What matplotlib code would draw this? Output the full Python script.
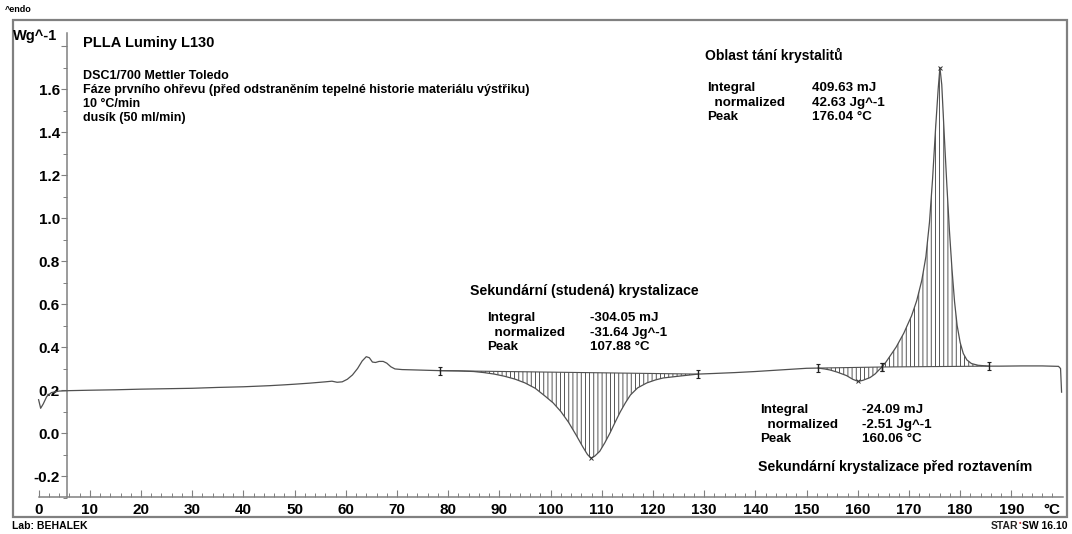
import matplotlib
matplotlib.use('Agg')
import matplotlib.pyplot as plt
import numpy as np
from matplotlib.patches import Polygon, Rectangle
from matplotlib.ticker import FixedLocator, NullFormatter

# ---------------- data ----------------
temperature = [0.0, 0.4, 0.9, 1.6, 2.5, 4.0, 6, 10, 15, 20, 25, 30, 35, 40, 45, 48, 50, 53, 56,
               57.3, 58.3, 59.3, 60.3, 61.3, 62.3, 63.2, 64.0, 64.6, 65.2, 65.8, 66.5, 67.3, 68.0,
               68.8, 69.6, 71, 74, 78.4, 82, 85, 87, 89, 91, 93, 95, 97, 99, 100.5, 102, 103.5,
               105, 106.3, 107.2, 107.88, 108.6, 109.6, 110.6, 111.6, 112.6, 113.6, 114.6, 115.6,
               117, 118.8, 120.5, 122, 125.3, 128.8, 132, 136, 140, 144, 148, 150, 152.2, 153.5,
               154.6, 156, 157.8, 159, 160.06, 161, 162.4, 163.4, 164.0, 164.7, 165.5, 166.5,
               167.5, 169, 170.5, 171.5, 172.5, 173.3, 174.0, 174.6, 175.2, 175.7, 176.04, 176.4,
               176.9, 177.4, 177.9, 178.4, 178.9, 179.4, 180.0, 180.6, 181.3, 182.2, 183.5, 185.6,
               188, 192, 196, 199.2, 199.6, 199.8]
heat_flow = [0.155, 0.115, 0.135, 0.170, 0.188, 0.195, 0.197, 0.199, 0.201, 0.204, 0.206, 0.208,
             0.212, 0.215, 0.220, 0.224, 0.227, 0.232, 0.238,
             0.241, 0.236, 0.238, 0.250, 0.270, 0.300, 0.335, 0.355, 0.350, 0.330, 0.328, 0.333,
             0.333, 0.325, 0.308, 0.298, 0.295, 0.293, 0.290, 0.289, 0.286, 0.281, 0.274, 0.264,
             0.251, 0.233, 0.208, 0.170, 0.140, 0.100, 0.050, -0.010, -0.065, -0.100, -0.117,
             -0.108, -0.085, -0.045, 0.000, 0.050, 0.098, 0.140, 0.177, 0.210, 0.233, 0.247,
             0.256, 0.265, 0.274, 0.277, 0.281, 0.286, 0.292, 0.298, 0.301, 0.302, 0.298, 0.293,
             0.283, 0.267, 0.250, 0.240, 0.245, 0.258, 0.275, 0.290, 0.307, 0.330, 0.365, 0.400,
             0.465, 0.545, 0.615, 0.710, 0.820, 0.980, 1.180, 1.420, 1.600, 1.700, 1.620, 1.380,
             1.150, 0.940, 0.760, 0.610, 0.500, 0.420, 0.370, 0.340, 0.323, 0.315, 0.311, 0.311,
             0.312, 0.312, 0.310, 0.300, 0.190]

# integration ranges: (start T, end T), baseline values at start/end
region_limits = [(78.4, 128.8), (152.2, 164.7), (164.7, 185.6)]
region_baseline = [(0.290, 0.274), (0.302, 0.307), (0.307, 0.311)]
peak_T = [107.88, 160.06, 176.04]
peak_v = [-0.117, 0.240, 1.700]

x_major = list(range(0, 200, 10))
x_minor = list(range(0, 200, 2))
y_major = [-0.2, 0.0, 0.2, 0.4, 0.6, 0.8, 1.0, 1.2, 1.4, 1.6, 1.8]
y_labels = ['-0.2', '0.0', '0.2', '0.4', '0.6', '0.8', '1.0', '1.2', '1.4', '1.6', '']
y_minor = [-0.3, -0.1, 0.1, 0.3, 0.5, 0.7, 0.9, 1.1, 1.3, 1.5, 1.7]

header_lines = ["DSC1/700 Mettler Toledo",
                "Fáze prvního ohřevu (před odstraněním tepelné historie materiálu výstřiku)",
                "10 °C/min",
                "dusík (50 ml/min)"]
row_labels = ["Integral", "  normalized", "Peak"]
cold_values = ["-304.05 mJ", "-31.64 Jg^-1", "107.88 °C"]
melt_values = ["409.63 mJ", "42.63 Jg^-1", "176.04 °C"]
pre_values = ["-24.09 mJ", "-2.51 Jg^-1", "160.06 °C"]

# ---------------- styling ----------------
plt.rcParams['font.family'] = ['Liberation Sans', 'DejaVu Sans']
plt.rcParams['font.weight'] = 'bold'
plt.rcParams['hatch.linewidth'] = 0.6

W, H = 1072, 534
fig = plt.figure(figsize=(W / 100, H / 100), dpi=100)
fig.patch.set_facecolor('white')
ax = fig.add_axes([13 / W, 17 / H, (1067 - 13) / W, (517 - 20) / H])
ax.set_xlim(-5.0, 200.86)
ax.set_ylim(-0.3907, 1.921)

axis_col = '#808080'
for s in ['top', 'right']:
    ax.spines[s].set_visible(False)
ax.spines['left'].set_position(('data', 5.5))
ax.spines['left'].set_bounds(-0.298, 1.86)
ax.spines['bottom'].set_position(('data', -0.298))
ax.spines['bottom'].set_bounds(0, 200)
for s in ['left', 'bottom']:
    ax.spines[s].set_color(axis_col)
    ax.spines[s].set_linewidth(1.1)

ax.xaxis.set_major_locator(FixedLocator(x_major))
ax.xaxis.set_minor_locator(FixedLocator(x_minor))
ax.set_xticklabels([str(v) for v in x_major])
ax.tick_params(axis='x', which='major', direction='in', length=5, width=0.8, color=axis_col,
               pad=4, labelsize=11)
ax.tick_params(axis='x', which='minor', direction='in', length=3, width=0.7, color=axis_col)

ax.yaxis.set_major_locator(FixedLocator(y_major))
ax.yaxis.set_minor_locator(FixedLocator(y_minor))
ax.set_yticklabels(y_labels)
ax.yaxis.set_minor_formatter(NullFormatter())
ax.tick_params(axis='y', which='major', direction='out', length=4, width=0.8, color=axis_col,
               pad=1, labelsize=11)
ax.tick_params(axis='y', which='minor', direction='out', length=3, width=0.7, color=axis_col)
for lab in ax.get_xticklabels() + ax.get_yticklabels():
    lab.set_fontweight('bold')

# outer frame
ax.add_patch(Rectangle((0, 0), 1, 1, transform=ax.transAxes, fill=False,
                       edgecolor=axis_col, linewidth=1.6, clip_on=False))

# curve
T = np.array(temperature)
V = np.array(heat_flow)
ax.plot(T, V, color='#505050', linewidth=0.9, zorder=3)

# hatched integration regions + baselines + limit markers
for (a, b), (ba, bb) in zip(region_limits, region_baseline):
    m = (T >= a) & (T <= b)
    verts = np.column_stack([T[m], V[m]])
    verts = np.vstack([verts, [[b, bb], [a, ba]]])
    ax.add_patch(Polygon(verts, closed=True, fill=False, hatch='||||',
                         edgecolor='#3a3a3a', linewidth=0, zorder=2))
    ax.plot([a, b], [ba, bb], color='#505050', linewidth=0.8, zorder=3)
    ax.errorbar([a, b], [ba, bb], yerr=0.018, fmt='none', ecolor='#222222',
                elinewidth=1.0, capsize=1.5, capthick=0.8, zorder=4)

ax.plot(peak_T, peak_v, linestyle='none', marker='x', markersize=3, color='#333333',
        markeredgewidth=0.7, zorder=4)

# axis unit labels
ax.text(3.7, 1.845, "Wg^-1", ha='right', va='center', fontsize=10.5, fontweight='bold')
ax.text(197.9, -0.358, "°C", ha='center', va='center', fontsize=11, fontweight='bold')

# header
ax.text(8.6, 1.812, "PLLA Luminy L130", ha='left', va='center', fontsize=10.5,
        fontweight='bold')
for i, line in enumerate(header_lines):
    ax.text(8.6, 1.662 - i * 0.066, line, ha='left', va='center', fontsize=9,
            fontweight='bold')


def block(x_lab, x_val, y0, values, dy=0.068, fs=9.6):
    for i, (lab, val) in enumerate(zip(row_labels, values)):
        ax.text(x_lab, y0 - i * dy, lab, ha='left', va='center', fontsize=fs, fontweight='bold')
        ax.text(x_val, y0 - i * dy, val, ha='left', va='center', fontsize=fs, fontweight='bold')


# cold crystallization
ax.text(84.3, 0.660, "Sekundární (studená) krystalizace", ha='left', va='center',
        fontsize=10.2, fontweight='bold')
block(87.6, 107.7, 0.535, cold_values)

# melting
ax.text(130.1, 1.758, "Oblast tání krystalitů", ha='left', va='center', fontsize=10,
        fontweight='bold')
block(130.5, 151.1, 1.605, melt_values)

# pre-melt crystallization
block(140.9, 160.8, 0.107, pre_values)
ax.text(140.5, -0.158, "Sekundární krystalizace před roztavením", ha='left', va='center',
        fontsize=10.2, fontweight='bold')

# figure texts
fig.text(5 / W, 1 - 9 / H, "^endo", ha='left', va='center', fontsize=6.5, fontweight='bold')
fig.text(12 / W, 1 - 526 / H, "Lab: BEHALEK", ha='left', va='center', fontsize=7.5,
         fontweight='bold')
fig.text(1068 / W, 1 - 526 / H, "SW 16.10", ha='right', va='center', fontsize=7.5,
         fontweight='bold')
fig.text(1018 / W, 1 - 526 / H, "STAR", ha='right', va='center', fontsize=7.5,
         fontweight='bold', color='#222222')
fig.text(1018.5 / W, 1 - 523 / H, "•", ha='left', va='center', fontsize=5, color='#d03030')

fig.savefig('out.png', dpi=100, facecolor='white')
